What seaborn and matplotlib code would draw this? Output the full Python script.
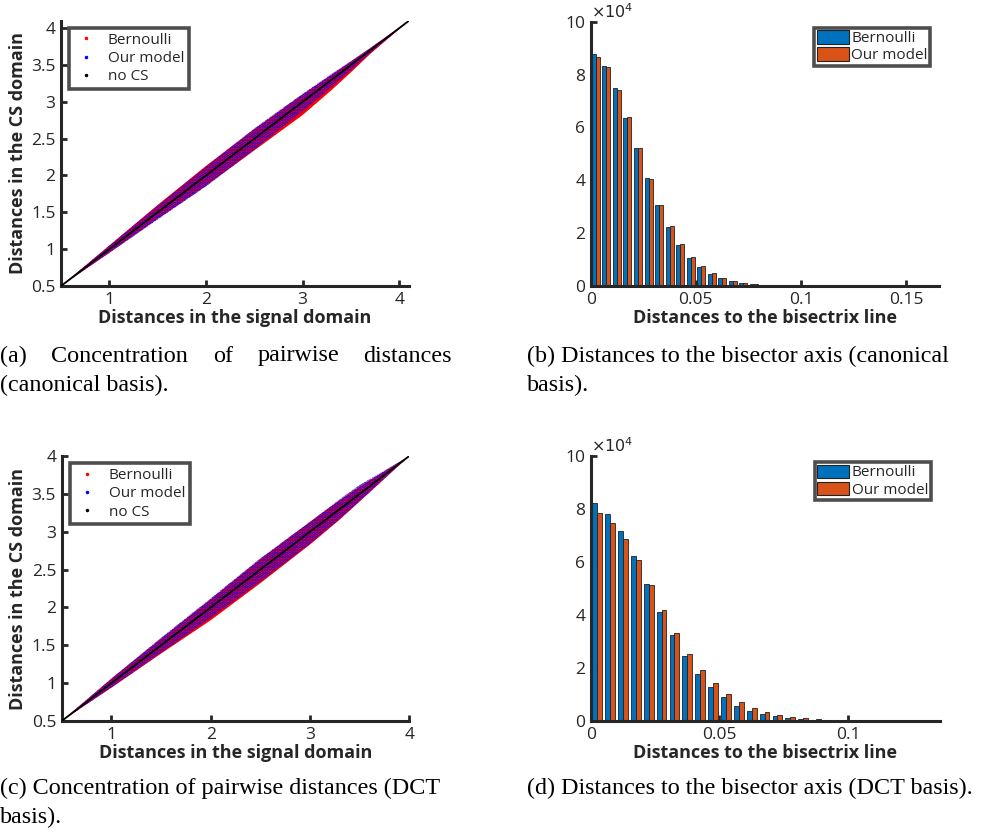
import numpy as np
import pandas as pd
import matplotlib
matplotlib.use("Agg")
import matplotlib.pyplot as plt
import seaborn as sns
from matplotlib.lines import Line2D
from matplotlib.patches import Patch

# ---------------- data ----------------
# scatter clouds: envelope of each cloud, given as deviation (y - x) at knots
a_knots = [0.5, 1.0, 1.5, 2.0, 2.5, 3.0, 3.3, 3.5, 3.7, 4.1]
a_bern_upper = [0, 0.05, 0.10, 0.13, 0.13, 0.10, 0.07, 0.05, 0.03, 0]
a_bern_lower = [0, -0.05, -0.09, -0.14, -0.16, -0.18, -0.14, -0.10, -0.05, 0]
a_model_upper = [0, 0.05, 0.09, 0.12, 0.14, 0.11, 0.08, 0.05, 0.03, 0]
a_model_lower = [0, -0.05, -0.10, -0.15, -0.15, -0.13, -0.10, -0.07, -0.04, 0]
a_nocs = [0.5, 4.1]

c_knots = [0.5, 1.0, 1.5, 2.0, 2.5, 3.0, 3.3, 3.5, 3.7, 4.0]
c_bern_upper = [0, 0.06, 0.09, 0.11, 0.14, 0.13, 0.12, 0.10, 0.06, 0]
c_bern_lower = [0, -0.06, -0.11, -0.17, -0.18, -0.17, -0.14, -0.10, -0.06, 0]
c_model_upper = [0, 0.06, 0.10, 0.12, 0.15, 0.13, 0.13, 0.12, 0.07, 0]
c_model_lower = [0, -0.06, -0.10, -0.14, -0.16, -0.16, -0.13, -0.10, -0.06, 0]
c_nocs = [0.5, 4.0]

# histograms: counts in units of 10^4, bins of width 0.005 starting at 0
bin_width = 0.005
b_bernoulli = [8.76, 8.32, 7.48, 6.36, 5.21, 4.07, 3.08, 2.24, 1.55, 1.06,
               0.72, 0.45, 0.30, 0.19, 0.10, 0.08, 0.04, 0.02, 0.01, 0.01]
b_model = [8.65, 8.27, 7.41, 6.38, 5.21, 4.04, 3.08, 2.26, 1.60, 1.08,
           0.74, 0.49, 0.30, 0.19, 0.13, 0.09, 0.04, 0.02, 0.01, 0.01]
d_bernoulli = [8.21, 7.80, 7.18, 6.21, 5.17, 4.11, 3.23, 2.45, 1.76, 1.28,
               0.89, 0.57, 0.39, 0.25, 0.18, 0.10, 0.06, 0.05, 0.03, 0.02]
d_model = [7.84, 7.46, 6.86, 6.06, 5.12, 4.19, 3.32, 2.52, 1.92, 1.42,
           1.01, 0.70, 0.48, 0.33, 0.21, 0.14, 0.10, 0.06, 0.04, 0.03]

series_names = ["Bernoulli", "Our model"]
scatter_labels = ["Bernoulli", "Our model", "no CS"]
captions = {
    "a": ["(a) Concentration of pairwise distances", "(canonical basis)."],
    "b": ["(b) Distances to the bisector axis (canonical", "basis)."],
    "c": ["(c) Concentration of pairwise distances (DCT", "basis)."],
    "d": ["(d) Distances to the bisector axis (DCT basis)."],
}

# ---------------- style ----------------
sns.set_theme(style="ticks")
plt.rcParams["font.family"] = ["Open Sans", "DejaVu Sans"]
plt.rcParams["hatch.linewidth"] = 1.7
TXT = "#262626"
RED = "#ff0000"
BLUE = "#0000ff"
MBLUE = "#0072bd"
MORANGE = "#d95319"
TICK_FS = 12.5
LABEL_FS = 13

W, H = 984, 838
fig = plt.figure(figsize=(W / 100, H / 100), dpi=100)


def add_ax(l, r, t, b):
    return fig.add_axes([l / W, 1 - b / H, (r - l) / W, (b - t) / H])


def style_ax(ax):
    for s in ["top", "right"]:
        ax.spines[s].set_visible(False)
    for s in ["left", "bottom"]:
        ax.spines[s].set_linewidth(2.2)
        ax.spines[s].set_color(TXT)
    ax.tick_params(direction="in", length=4, width=2, colors=TXT,
                   labelsize=TICK_FS, pad=4)
    ax.set_facecolor("white")


def scatter_panel(ax, knots, bu, bl, mu, ml, nocs, lim, ticks):
    x = np.array(knots)
    ax.fill_between(x, x + np.array(bl), x + np.array(bu), facecolor=RED,
                    edgecolor="none", lw=0, zorder=2)
    ax.fill_between(x, x + np.array(ml), x + np.array(mu), facecolor="none",
                    edgecolor=BLUE, hatch=".....", lw=0, zorder=3)
    sns.lineplot(x=nocs, y=nocs, color="black", lw=1.3, ax=ax, zorder=4)
    ax.set_xlim(*lim)
    ax.set_ylim(*lim)
    ax.set_xticks([1, 2, 3, 4])
    ax.set_xticklabels(["1", "2", "3", "4"])
    ax.set_yticks(ticks)
    ax.set_yticklabels([("%g" % t) for t in ticks])
    style_ax(ax)
    ax.set_xlabel("Distances in the signal domain", fontsize=LABEL_FS,
                  fontweight="bold", color=TXT, labelpad=1)
    ax.set_ylabel("Distances in the CS domain", fontsize=LABEL_FS,
                  fontweight="bold", color=TXT, labelpad=3)
    handles = [Line2D([], [], ls="none", marker=".", ms=3, color=c)
               for c in [RED, BLUE, "black"]]
    leg = ax.legend(handles, scatter_labels, loc="upper left",
                    bbox_to_anchor=(0.023, 0.972), borderaxespad=0,
                    fontsize=11, frameon=True, fancybox=False,
                    handlelength=1.6, handletextpad=0.65, labelspacing=0.22,
                    borderpad=0.3)
    leg.get_frame().set_edgecolor("#222222")
    leg.get_frame().set_linewidth(2.6)
    for t in leg.get_texts():
        t.set_color(TXT)


def hist_panel(ax, bern, model, xmax, xticks):
    n = len(bern)
    centers = (np.arange(n) + 0.5) * bin_width
    df = pd.DataFrame({
        "center": np.concatenate([centers, centers]),
        "count": np.concatenate([bern, model]),
        "series": [series_names[0]] * n + [series_names[1]] * n,
    })
    sns.histplot(data=df, x="center", weights="count", hue="series",
                 hue_order=series_names, binwidth=bin_width,
                 binrange=(0, n * bin_width), multiple="dodge",
                 shrink=0.76, palette=[MBLUE, MORANGE], edgecolor="#222222",
                 linewidth=0.6, alpha=1, legend=False, ax=ax)
    ax.set_xlim(0, xmax)
    ax.set_ylim(0, 10)
    ax.set_xticks(xticks)
    ax.set_xticklabels([("%g" % t) for t in xticks])
    ax.set_yticks([0, 2, 4, 6, 8, 10])
    ax.set_yticklabels(["0", "2", "4", "6", "8", "10"])
    style_ax(ax)
    ax.set_ylabel("")
    ax.set_xlabel("Distances to the bisectrix line", fontsize=LABEL_FS,
                  fontweight="bold", color=TXT, labelpad=1)
    ax.text(0.0, 1.0, r"$\times10^4$", transform=ax.transAxes, fontsize=11.5,
            color=TXT, ha="left", va="bottom")
    handles = [Patch(facecolor=c, edgecolor="#222222", lw=0.8)
               for c in [MBLUE, MORANGE]]
    leg = ax.legend(handles, series_names, loc="upper right",
                    bbox_to_anchor=(0.973, 0.976), borderaxespad=0,
                    fontsize=11, frameon=True, fancybox=False,
                    handlelength=2.1, handleheight=0.95, handletextpad=0.15,
                    labelspacing=0.08, borderpad=0.15)
    leg.get_frame().set_edgecolor("#222222")
    leg.get_frame().set_linewidth(2.6)
    for t in leg.get_texts():
        t.set_color(TXT)


ax_a = add_ax(61, 409, 20.7, 286)
ax_b = add_ax(590.7, 939.3, 21.7, 286)
ax_c = add_ax(61.7, 409.3, 456, 721)
ax_d = add_ax(590.7, 940, 456, 721)

scatter_panel(ax_a, a_knots, a_bern_upper, a_bern_lower, a_model_upper,
              a_model_lower, a_nocs, (0.5, 4.1),
              [0.5, 1, 1.5, 2, 2.5, 3, 3.5, 4])
scatter_panel(ax_c, c_knots, c_bern_upper, c_bern_lower, c_model_upper,
              c_model_lower, c_nocs, (0.5, 4.0),
              [0.5, 1, 1.5, 2, 2.5, 3, 3.5, 4])
hist_panel(ax_b, b_bernoulli, b_model, 0.1658, [0, 0.05, 0.1, 0.15])
hist_panel(ax_d, d_bernoulli, d_model, 0.1356, [0, 0.05, 0.1])

# ---------------- captions ----------------
CAP_FONT = dict(family=["Liberation Serif", "DejaVu Serif"], fontsize=17.4,
                color="black")


def caption(x, y, text):
    fig.text(x / W, 1 - y / H, text, ha="left", va="center", **CAP_FONT)


def caption_justified(x0, x1, y, text):
    words = text.split()
    renderer = fig.canvas.get_renderer()
    objs = [fig.text(0, 1 - y / H, w, ha="left", va="center", **CAP_FONT)
            for w in words]
    widths = [o.get_window_extent(renderer).width for o in objs]
    gap = (x1 - x0 - sum(widths)) / (len(words) - 1)
    pos = x0
    for o, w in zip(objs, widths):
        o.set_x(pos / W)
        pos += w + gap


caption_justified(0, 452, 356, captions["a"][0])
caption(0, 385, captions["a"][1])
caption(527, 356, captions["b"][0])
caption(527, 385, captions["b"][1])
caption(0, 788, captions["c"][0])
caption(0, 817, captions["c"][1])
caption(527, 788, captions["d"][0])

fig.savefig("out.png", dpi=100, facecolor="white")
